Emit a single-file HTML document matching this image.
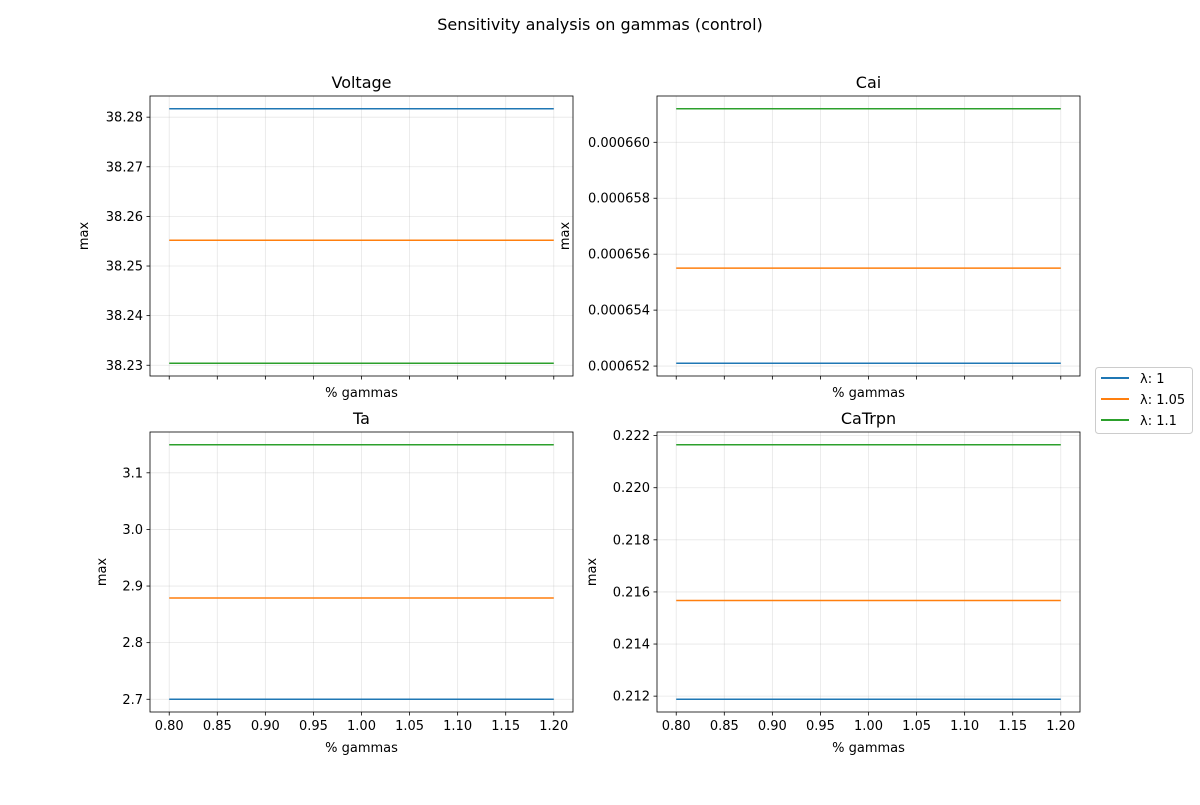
<!DOCTYPE html>
<html><head><meta charset="utf-8"><style>
body{margin:0;background:#fff;}
svg{font-family:"DejaVu Sans","Liberation Sans",sans-serif;}
</style></head><body>
<svg id="fig" width="1200" height="800" viewBox="0 0 1200 800">
<rect width="1200" height="800" fill="#fff"/>
<text x="600" y="30" text-anchor="middle" font-size="16">Sensitivity analysis on gammas (control)</text>
<g id="legend">
<rect x="1095.5" y="367.5" width="97" height="66" rx="3" fill="#fff" stroke="#ccc"/>
<line x1="1101" y1="378" x2="1129" y2="378" stroke="#1f77b4" stroke-width="2"/>
<text x="1140" y="383" font-size="13">λ: 1</text>
<line x1="1101" y1="399" x2="1129" y2="399" stroke="#ff7f0e" stroke-width="2"/>
<text x="1140" y="404" font-size="13">λ: 1.05</text>
<line x1="1101" y1="420" x2="1129" y2="420" stroke="#2ca02c" stroke-width="2"/>
<text x="1140" y="425" font-size="13">λ: 1.1</text>
</g>
</svg>
<script>
const xValues = [0.80,0.85,0.90,0.95,1.00,1.05,1.10,1.15,1.20];
const seriesNames = ["λ: 1","λ: 1.05","λ: 1.1"];
const colors = ["#1f77b4","#ff7f0e","#2ca02c"];
const voltageValues = [38.2817,38.2552,38.2304];
const caiValues = [0.0006521,0.0006555,0.0006612];
const taValues = [2.700,2.8788,3.1496];
const catrpnValues = [0.21188,0.215673,0.22165];
const voltageTicks = [38.23,38.24,38.25,38.26,38.27,38.28];
const caiTicks = [0.000652,0.000654,0.000656,0.000658,0.000660];
const taTicks = [2.7,2.8,2.9,3.0,3.1];
const catrpnTicks = [0.212,0.214,0.216,0.218,0.220,0.222];
const xTicks = [0.80,0.85,0.90,0.95,1.00,1.05,1.10,1.15,1.20];

const NS="http://www.w3.org/2000/svg";
const svg=document.getElementById('fig');
const legend=document.getElementById('legend');
function mk(tag,attrs,parent){const e=document.createElementNS(NS,tag);for(const k in attrs)e.setAttribute(k,attrs[k]);if(parent)parent.appendChild(e);else svg.insertBefore(e,legend);return e;}

const panels=[
 {title:"Voltage",vals:voltageValues,ticks:voltageTicks,dec:2,x:150,y:96,lbl:false,ylx:88,key:"voltage"},
 {title:"Cai",vals:caiValues,ticks:caiTicks,dec:6,x:657,y:96,lbl:false,ylx:569,key:"cai"},
 {title:"Ta",vals:taValues,ticks:taTicks,dec:1,x:150,y:432,lbl:true,ylx:106,key:"ta"},
 {title:"CaTrpn",vals:catrpnValues,ticks:catrpnTicks,dec:3,x:657,y:432,lbl:true,ylx:596,key:"catrpn"}
];
const W=423,H=280;
panels.forEach(p=>{
  const g=mk('g',{});
  
  
  const xmin=Math.min(...xValues),xmax=Math.max(...xValues),xm=(xmax-xmin)*0.05;
  const x0=xmin-xm,x1=xmax+xm;
  const ymin=Math.min(...p.vals),ymax=Math.max(...p.vals),ym=(ymax-ymin)*0.05;
  const y0=ymin-ym,y1=ymax+ym;
  const sx=v=>p.x+(v-x0)/(x1-x0)*W;
  const sy=v=>p.y+H-(v-y0)/(y1-y0)*H;
  xTicks.forEach(t=>{
    const X=sx(t);
    const gl=mk('line',{x1:X,x2:X,y1:p.y,y2:p.y+H,stroke:'#b0b0b0','stroke-opacity':0.3,'stroke-width':0.8},g);
    
    
    mk('line',{x1:X,x2:X,y1:p.y+H,y2:p.y+H+3.5,stroke:'#000','stroke-width':0.8},g);
    if(p.lbl){const tx=mk('text',{x:X,y:p.y+H+18,'text-anchor':'middle','font-size':13},g);tx.textContent=t.toFixed(2);
      
      }
  });
  p.ticks.forEach(t=>{
    const Y=sy(t);
    const gl=mk('line',{x1:p.x,x2:p.x+W,y1:Y,y2:Y,stroke:'#b0b0b0','stroke-opacity':0.3,'stroke-width':0.8},g);
    
    
    mk('line',{x1:p.x-3.5,x2:p.x,y1:Y,y2:Y,stroke:'#000','stroke-width':0.8},g);
    const tx=mk('text',{x:p.x-7,y:Y+4.5,'text-anchor':'end','font-size':13},g);tx.textContent=t.toFixed(p.dec);
    
    
  });
  p.vals.forEach((v,i)=>{
    const pts=xValues.map(xv=>sx(xv)+','+sy(v)).join(' ');
    const pl=mk('polyline',{points:pts,fill:'none',stroke:colors[i],'stroke-width':1.5},g);
    
    
  });
  mk('rect',{x:p.x,y:p.y,width:W,height:H,fill:'none',stroke:'#000','stroke-width':0.8},g);
  const ti=mk('text',{x:p.x+W/2,y:p.y-8,'text-anchor':'middle','font-size':16},g);ti.textContent=p.title;
  
  
  const xl=mk('text',{x:p.x+W/2,y:p.lbl?p.y+H+40:p.y+H+21,'text-anchor':'middle','font-size':13},g);xl.textContent='% gammas';
  
  
  const yl=mk('text',{x:p.ylx,y:p.y+H/2,'text-anchor':'middle','font-size':13,transform:`rotate(-90 ${p.ylx} ${p.y+H/2})`},g);yl.textContent='max';
  
  
});
</script>
</body></html>
